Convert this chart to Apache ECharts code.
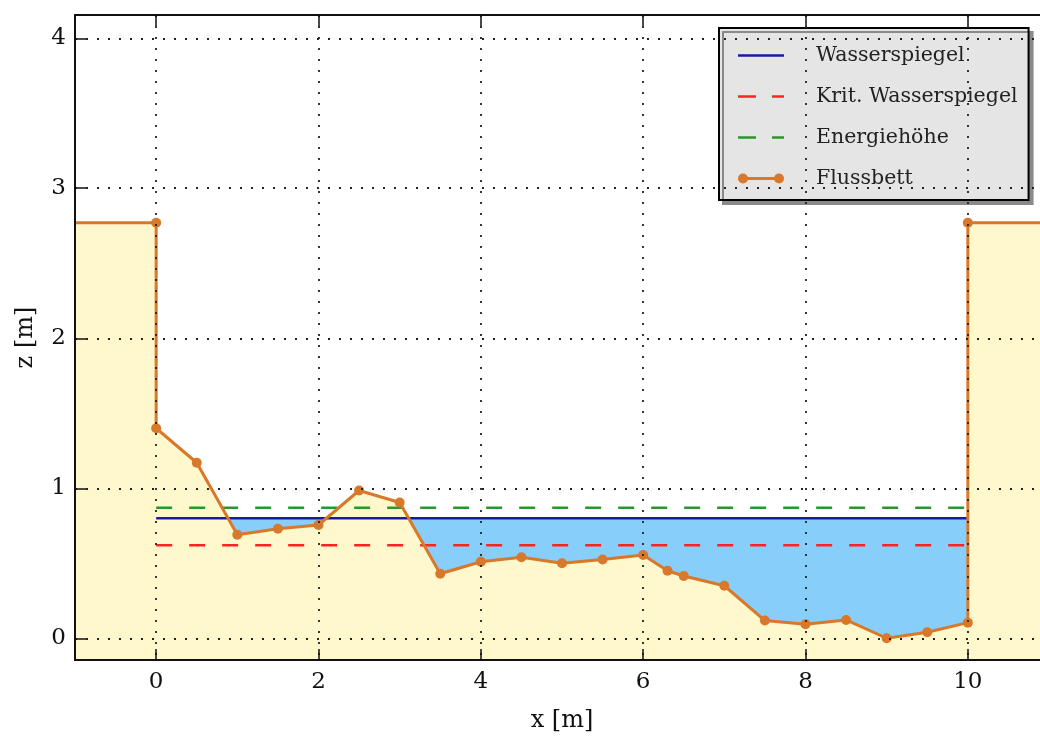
<!DOCTYPE html>
<html>
<head>
<meta charset="utf-8">
<script src="https://cdn.jsdelivr.net/npm/echarts@6/dist/echarts.min.js"></script>
<style>
html, body { margin: 0; padding: 0; background: #fff; }
#main { width: 1040px; height: 736px; }
</style>
</head>
<body>
<div id="main"></div>
<script>
// Flussbett (river bed) profile
var bedX = [0, 0, 0.5, 1, 1.5, 2, 2.5, 3, 3.5, 4, 4.5, 5, 5.5, 6, 6.3, 6.5, 7, 7.5, 8, 8.5, 9, 9.5, 10, 10];
var bedZ = [2.77, 1.40, 1.17, 0.69, 0.73, 0.755, 0.985, 0.905, 0.43, 0.51, 0.54, 0.50, 0.525, 0.555, 0.45, 0.415, 0.35, 0.118, 0.093, 0.122, 0.0, 0.04, 0.104, 2.77];
// bank continues outside the channel
var bankX = [-1, 11];
// water levels across the channel
var channelX = [0, 10];
var waterZ = 0.80;
var critZ = 0.62;
var energyZ = 0.87;
var legendNames = ['Wasserspiegel', 'Krit. Wasserspiegel', 'Energiehöhe', 'Flussbett'];

var FONT = 'DejaVu Serif';

function level(z) {
    return channelX.map(function (x) { return [x, z]; });
}

var bedData = [{ value: [bankX[0], bedZ[0]], symbol: 'none' }];
bedX.forEach(function (x, i) { bedData.push([x, bedZ[i]]); });
bedData.push({ value: [bankX[1], bedZ[bedZ.length - 1]], symbol: 'none' });

// legend icons: fixed 73x10 box so the text sits where it should
var box = 'M0 0 M73 10 ';
var icons = {
    solid: 'path://' + box + 'M0 3.8 L46 3.8 L46 6.2 L0 6.2 Z',
    dashed: 'path://' + box + 'M0 3.7 L18 3.7 L18 6.3 L0 6.3 Z M34 3.7 L46 3.7 L46 6.3 L34 6.3 Z',
    marker: 'path://' + box + 'M0 5 A5 5 0 1 1 10 5 A5 5 0 1 1 0 5 Z M36 5 A5 5 0 1 1 46 5 A5 5 0 1 1 36 5 Z M9.5 3.6 L36.5 3.6 L36.5 6.4 L9.5 6.4 Z'
};

var gridLine = { show: true, lineStyle: { color: '#222', width: 1.8, type: [2, 9] } };
var axisLine = { show: true, onZero: false, lineStyle: { color: '#111', width: 2 } };
var axisTick = { show: true, inside: true, length: 11, lineStyle: { color: '#111', width: 1.5 } };

var myChart = echarts.init(document.getElementById('main'));
option = {
    backgroundColor: '#fff',
    animation: false,
    grid: { left: 75, top: 15, width: 974, height: 645, outerBoundsMode: 'none', containLabel: false },
    legend: {
        left: 719,
        top: 28,
        orient: 'vertical',
        padding: [17, 11, 11, 19],
        itemWidth: 73,
        itemHeight: 10,
        itemGap: 20,
        backgroundColor: '#e5e5e5',
        borderColor: '#000',
        borderWidth: 2,
        shadowColor: '#8a8a8a',
        shadowBlur: 0,
        shadowOffsetX: 4,
        shadowOffsetY: 4,
        itemStyle: { borderWidth: 0 },
        textStyle: { fontFamily: FONT, fontSize: 20.5, color: '#222' },
        data: [
            { name: legendNames[0], icon: icons.solid },
            { name: legendNames[1], icon: icons.dashed },
            { name: legendNames[2], icon: icons.dashed },
            { name: legendNames[3], icon: icons.marker }
        ]
    },
    xAxis: [
        {
            type: 'value', min: bankX[0], max: bankX[1], splitNumber: 6, z: 10,
            name: 'x [m]', nameLocation: 'middle', nameGap: 49,
            nameTextStyle: { fontFamily: FONT, fontSize: 24, color: '#111' },
            axisLine: axisLine, axisTick: axisTick, splitLine: gridLine,
            axisLabel: {
                margin: 11, fontFamily: FONT, fontSize: 23, color: '#111',
                formatter: function (v) { return (Math.abs(v - Math.round(v)) < 1e-9 && Math.round(v) % 2 === 0) ? String(Math.round(v)) : ''; }
            }
        },
        {
            type: 'value', position: 'top', min: bankX[0], max: bankX[1], splitNumber: 6, z: 10,
            axisLine: axisLine, axisTick: axisTick, splitLine: { show: false }, axisLabel: { show: false }
        }
    ],
    yAxis: {
        type: 'value', min: -0.145, max: 4.155, splitNumber: 4, z: 10,
        name: 'z [m]', nameLocation: 'middle', nameGap: 37,
        nameTextStyle: { fontFamily: FONT, fontSize: 24, color: '#111' },
        axisLine: axisLine, axisTick: axisTick, splitLine: gridLine,
        axisLabel: {
            margin: 9, fontFamily: FONT, fontSize: 23, color: '#111',
            formatter: function (v) { return Math.abs(v - Math.round(v)) < 1e-9 ? String(Math.round(v)) : ''; }
        }
    },
    series: [
        {
            name: legendNames[0], type: 'line', data: level(waterZ), symbol: 'none',
            color: '#1a1aa0',
            lineStyle: { color: '#1a1aa0', width: 2.6 },
            areaStyle: { color: '#87cefa', opacity: 1, origin: 'start' }
        },
        {
            name: 'bedFill', type: 'line', data: bedData, symbol: 'none',
            lineStyle: { width: 0 },
            areaStyle: { color: '#fff8cc', opacity: 1, origin: 'start' }
        },
        {
            name: legendNames[1], type: 'line', data: level(critZ), symbol: 'none',
            color: '#ff2222',
            lineStyle: { color: '#ff2222', width: 2.6, type: [16, 17] }
        },
        {
            name: legendNames[2], type: 'line', data: level(energyZ), symbol: 'none',
            color: '#26992a',
            lineStyle: { color: '#26992a', width: 2.6, type: [16, 17] }
        },
        {
            name: legendNames[3], type: 'line', data: bedData,
            symbol: 'circle', symbolSize: 10,
            color: '#d8782a',
            itemStyle: { color: '#d8782a', borderWidth: 0 },
            lineStyle: { color: '#d8782a', width: 3 }
        }
    ]
};
myChart.setOption(option);
</script>
</body>
</html>
